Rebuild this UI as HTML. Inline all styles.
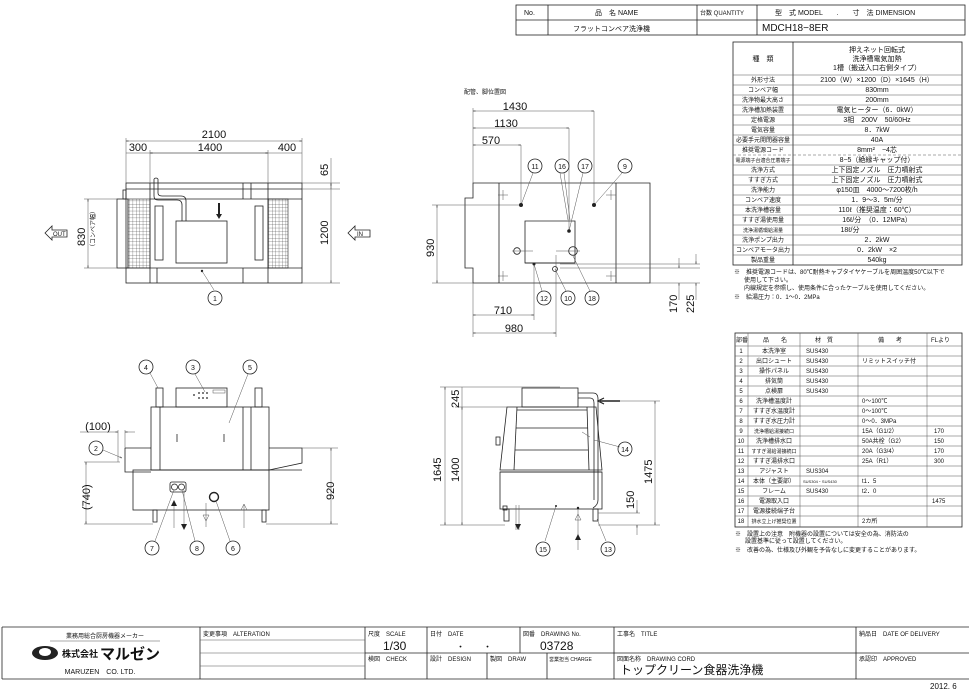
<!DOCTYPE html>
<html><head><meta charset="utf-8"><style>
html,body{margin:0;padding:0;background:#fff}
svg{display:block}
text{font-family:"Liberation Sans","Noto Sans CJK JP",sans-serif;fill:#111}
.t{font-size:7px}
.s{font-size:6px}
.d{font-size:11px}
.l{stroke:#222;stroke-width:.8;fill:none}
.th{stroke:#222;stroke-width:1.3;fill:none}
.g{stroke:#555;stroke-width:.5;fill:none}
</style></head><body>
<svg width="969" height="692" viewBox="0 0 969 692" xmlns="http://www.w3.org/2000/svg">
<rect width="969" height="692" fill="#fff"/>
<defs>
<marker id="a" viewBox="0 0 10 10" refX="10" refY="5" markerWidth="5" markerHeight="5" orient="auto-start-reverse"><path d="M0,2L10,5L0,8" fill="none" stroke="#222"/></marker>
<pattern id="m" width="3.4" height="3.4" patternUnits="userSpaceOnUse"><path d="M0,0H3.4M0,0V3.4" stroke="#333" stroke-width=".5"/></pattern>
</defs>

<!-- Header table -->
<g class="l">
<rect x="516" y="5" width="449" height="30"/>
<line x1="516" y1="20" x2="965" y2="20"/>
<line x1="548" y1="5" x2="548" y2="35"/><line x1="697" y1="5" x2="697" y2="35"/><line x1="757" y1="5" x2="757" y2="35"/>
</g>
<text class="t" x="524" y="15">No.</text>
<text class="t" x="595" y="15">品　名 NAME</text>
<text class="s" x="700" y="15">台数 QUANTITY</text>
<text class="t" x="775" y="15">型　式 MODEL　　.　　寸　法 DIMENSION</text>
<text class="t" x="573" y="31">フラットコンベア洗浄機</text>
<text class="d" x="762" y="31" style="font-size:10px">MDCH18−8ER</text>

<!-- Spec table -->
<g class="l">
<rect x="733" y="42" width="229" height="223"/>
<line x1="793" y1="42" x2="793" y2="265"/>
</g>
<g class="g">
<line x1="733" y1="75" x2="962" y2="75"/><line x1="733" y1="85" x2="962" y2="85"/><line x1="733" y1="95" x2="962" y2="95"/><line x1="733" y1="105" x2="962" y2="105"/><line x1="733" y1="115" x2="962" y2="115"/><line x1="733" y1="125" x2="962" y2="125"/><line x1="733" y1="135" x2="962" y2="135"/><line x1="733" y1="145" x2="962" y2="145"/><line x1="733" y1="155" x2="962" y2="155" stroke-dasharray="3,2"/><line x1="733" y1="165" x2="962" y2="165"/><line x1="733" y1="175" x2="962" y2="175"/><line x1="733" y1="185" x2="962" y2="185"/><line x1="733" y1="195" x2="962" y2="195"/><line x1="733" y1="205" x2="962" y2="205"/><line x1="733" y1="215" x2="962" y2="215"/><line x1="733" y1="225" x2="962" y2="225"/><line x1="733" y1="235" x2="962" y2="235"/><line x1="733" y1="245" x2="962" y2="245"/><line x1="733" y1="255" x2="962" y2="255"/>
</g>
<g class="t" text-anchor="middle">
<text x="763" y="61">種　類</text>
<text x="877" y="52">押えネット回転式</text><text x="877" y="61">洗浄槽電気加熱</text><text x="877" y="70">1槽（搬送入口右側タイプ）</text>
</g>
<g class="s" text-anchor="middle">
<text x="763" y="82">外形寸法</text><text x="763" y="92">コンベア幅</text><text x="763" y="102">洗浄物最大高さ</text><text x="763" y="112">洗浄槽加熱装置</text><text x="763" y="122">定格電源</text><text x="763" y="132">電気容量</text><text x="763" y="142">必要手元開閉器容量</text><text x="763" y="152">推奨電源コード</text><text x="763" y="162" style="font-size:5px">電源端子台適合圧着端子</text><text x="763" y="172">洗浄方式</text><text x="763" y="182">すすぎ方式</text><text x="763" y="192">洗浄能力</text><text x="763" y="202">コンベア速度</text><text x="763" y="212">本洗浄槽容量</text><text x="763" y="222">すすぎ湯使用量</text><text x="763" y="232" style="font-size:5px">洗浄湯循環給湯量</text><text x="763" y="242">洗浄ポンプ出力</text><text x="763" y="252">コンベアモータ出力</text><text x="763" y="262">製品重量</text>
</g>
<g class="t" text-anchor="middle">
<text x="877" y="82">2100（W）×1200（D）×1645（H）</text><text x="877" y="92">830mm</text><text x="877" y="102">200mm</text><text x="877" y="112">電気ヒーター（6．0kW）</text><text x="877" y="122">3相　200V　50/60Hz</text><text x="877" y="132">8．7kW</text><text x="877" y="142">40A</text><text x="877" y="152">8mm²　−4芯</text><text x="877" y="162">8−5（絶縁キャップ付）</text><text x="877" y="172">上下固定ノズル　圧力噴射式</text><text x="877" y="182">上下固定ノズル　圧力噴射式</text><text x="877" y="192">φ150皿　4000〜7200枚/h</text><text x="877" y="202">1．9〜3．5m/分</text><text x="877" y="212">110ℓ（推奨温度：60℃）</text><text x="877" y="222">16ℓ/分　（0．12MPa）</text><text x="850" y="232">18ℓ/分</text><text x="877" y="242">2．2kW</text><text x="877" y="252">0．2kW　×2</text><text x="877" y="262">540kg</text>
</g>
<g class="s">
<text x="734" y="274">※　推奨電源コードは、80℃耐熱キャブタイヤケーブルを周囲温度50℃以下で</text>
<text x="744" y="282">使用して下さい。</text>
<text x="744" y="290">内線規定を参照し、使用条件に合ったケーブルを使用してください。</text>
<text x="734" y="299">※　給湯圧力：0．1〜0．2MPa</text>
</g>

<!-- Parts table -->
<g class="l"><rect x="735" y="333" width="227" height="194"/></g>
<g class="g">
<line x1="748" y1="333" x2="748" y2="527"/><line x1="800" y1="333" x2="800" y2="527"/><line x1="858" y1="333" x2="858" y2="527"/><line x1="927" y1="333" x2="927" y2="527"/>
<line x1="735" y1="346" x2="962" y2="346"/><line x1="735" y1="356" x2="962" y2="356"/><line x1="735" y1="366" x2="962" y2="366"/><line x1="735" y1="376" x2="962" y2="376"/><line x1="735" y1="386" x2="962" y2="386"/><line x1="735" y1="396" x2="962" y2="396"/><line x1="735" y1="406" x2="962" y2="406"/><line x1="735" y1="416" x2="962" y2="416"/><line x1="735" y1="426" x2="962" y2="426"/><line x1="735" y1="436" x2="962" y2="436"/><line x1="735" y1="446" x2="962" y2="446"/><line x1="735" y1="456" x2="962" y2="456"/><line x1="735" y1="466" x2="962" y2="466"/><line x1="735" y1="476" x2="962" y2="476"/><line x1="735" y1="486" x2="962" y2="486"/><line x1="735" y1="496" x2="962" y2="496"/><line x1="735" y1="506" x2="962" y2="506"/><line x1="735" y1="516" x2="962" y2="516"/>
</g>
<g class="s">
<text x="736" y="342">部番</text><text x="763" y="342">品　　名</text><text x="815" y="342">材　質</text><text x="878" y="342">備　　考</text><text x="931" y="342">FLより</text>
</g>
<g class="s" text-anchor="middle">
<text x="741" y="353">1</text><text x="741" y="363">2</text><text x="741" y="373">3</text><text x="741" y="383">4</text><text x="741" y="393">5</text><text x="741" y="403">6</text><text x="741" y="413">7</text><text x="741" y="423">8</text><text x="741" y="433">9</text><text x="741" y="443">10</text><text x="741" y="453">11</text><text x="741" y="463">12</text><text x="741" y="473">13</text><text x="741" y="483">14</text><text x="741" y="493">15</text><text x="741" y="503">16</text><text x="741" y="513">17</text><text x="741" y="523">18</text>
<text x="774" y="353">本洗浄室</text><text x="774" y="363">出口シュート</text><text x="774" y="373">操作パネル</text><text x="774" y="383">排気筒</text><text x="774" y="393">点検扉</text><text x="774" y="403">洗浄槽温度計</text><text x="774" y="413">すすぎ水温度計</text><text x="774" y="423">すすぎ水圧力計</text><text x="774" y="433" style="font-size:5px">洗浄槽給湯接続口</text><text x="774" y="443">洗浄槽排水口</text><text x="774" y="453" style="font-size:5px">すすぎ湯給湯接続口</text><text x="774" y="463">すすぎ湯排水口</text><text x="774" y="473">アジャスト</text><text x="774" y="483">本体（主要部）</text><text x="774" y="493">フレーム</text><text x="774" y="503">電源取入口</text><text x="774" y="513">電源接続端子台</text><text x="774" y="523" style="font-size:5px">排水立上げ推奨位置</text>
</g>
<g class="s">
<text x="806" y="353">SUS430</text><text x="806" y="363">SUS430</text><text x="806" y="373">SUS430</text><text x="806" y="383">SUS430</text><text x="806" y="393">SUS430</text><text x="806" y="473">SUS304</text><text x="803" y="483" style="font-size:4px">SUS304・SUS430</text><text x="806" y="493">SUS430</text>
<text x="862" y="363">リミットスイッチ付</text><text x="862" y="403">0〜100℃</text><text x="862" y="413">0〜100℃</text><text x="862" y="423">0〜0．3MPa</text><text x="862" y="433">15A（G1/2）</text><text x="862" y="443">50A共栓（G2）</text><text x="862" y="453">20A（G3/4）</text><text x="862" y="463">25A（R1）</text><text x="862" y="483">t1．5</text><text x="862" y="493">t2．0</text><text x="862" y="523">2カ所</text>
<text x="934" y="433">170</text><text x="934" y="443">150</text><text x="934" y="453">170</text><text x="934" y="463">300</text><text x="932" y="503">1475</text>
<text x="735" y="536">※　設置上の注意　附機器の設置については安全の為、消防法の</text>
<text x="745" y="543">設置基準に従って設置してください。</text>
<text x="735" y="552">※　改善の為、仕様及び外観を予告なしに変更することがあります。</text>
</g>

<!-- Drawing 1: top view -->
<g class="l">
<rect x="126" y="183" width="176" height="100"/>
<line x1="126" y1="189" x2="302" y2="189"/>
<line x1="150" y1="183" x2="150" y2="283"/><line x1="268" y1="183" x2="268" y2="283"/>
<line x1="150" y1="199" x2="268" y2="199"/><line x1="150" y1="268" x2="268" y2="268"/>
<line x1="126" y1="268" x2="150" y2="268"/><line x1="268" y1="268" x2="302" y2="268"/>
<line x1="268" y1="199" x2="302" y2="199"/>
<line x1="243" y1="183" x2="243" y2="199"/><line x1="251" y1="183" x2="251" y2="199"/>
<line x1="243" y1="268" x2="243" y2="283"/><line x1="157" y1="268" x2="157" y2="283"/>
<rect x="117" y="199" width="11" height="69"/>
<rect x="123" y="190" width="3" height="9"/>
<rect x="155" y="206" width="8" height="54"/><rect x="255" y="206" width="8" height="54"/>
<rect x="176" y="221" width="51" height="42"/>
<path d="M154,179 V196 Q154,200 158,200 H177 Q182,200 182,205 V221 M158,179 V193 Q158,196 162,196 H181 Q186,196 186,201 V221"/>
<path d="M154,179 Q156,177 158,179"/>
</g>
<rect x="128" y="199" width="22" height="69" fill="url(#m)" stroke="#222" stroke-width=".6"/>
<rect x="268" y="199" width="20" height="69" fill="url(#m)" stroke="#222" stroke-width=".6"/>
<path d="M219,203 V216" stroke="#222" stroke-width="2"/><path d="M216,214 L219,219 L222,214" fill="#222"/>
<circle cx="202" cy="271" r="1.2" fill="#222"/>
<line x1="202" y1="271" x2="214" y2="290" class="g"/>
<circle cx="215" cy="298" r="7" class="l"/><text class="t" x="215" y="301" text-anchor="middle">1</text>
<g class="g">
<line x1="126" y1="138" x2="126" y2="183"/><line x1="302" y1="138" x2="302" y2="183"/><line x1="150" y1="150" x2="150" y2="183"/><line x1="268" y1="150" x2="268" y2="183"/>
<line x1="126" y1="141" x2="302" y2="141" marker-start="url(#a)" marker-end="url(#a)"/>
<line x1="126" y1="153" x2="302" y2="153"/>
<line x1="150" y1="153" x2="268" y2="153" marker-start="url(#a)" marker-end="url(#a)"/>
<line x1="302" y1="183" x2="340" y2="183"/><line x1="302" y1="283" x2="340" y2="283"/><line x1="302" y1="189" x2="340" y2="189"/>
<line x1="331" y1="183" x2="331" y2="283" marker-start="url(#a)" marker-end="url(#a)"/>
<line x1="331" y1="158" x2="331" y2="189"/>
<line x1="117" y1="199" x2="84" y2="199"/><line x1="117" y1="268" x2="84" y2="268"/>
<line x1="88" y1="199" x2="88" y2="268" marker-start="url(#a)" marker-end="url(#a)"/>
</g>
<text class="d" x="214" y="138" text-anchor="middle">2100</text>
<text class="d" x="138" y="151" text-anchor="middle">300</text>
<text class="d" x="210" y="151" text-anchor="middle">1400</text>
<text class="d" x="287" y="151" text-anchor="middle">400</text>
<text class="d" transform="translate(328,176) rotate(-90)">65</text>
<text class="d" transform="translate(328,245) rotate(-90)">1200</text>
<text class="d" transform="translate(85,246) rotate(-90)">830</text>
<text class="s" transform="translate(95,250) rotate(-90)">（コンベア幅）</text>
<path d="M45,233 L52,226 V230 H67 V237 H52 V240 Z" class="l"/><text class="s" x="53" y="236">OUT</text>
<path d="M348,233 L355,226 V230 H370 V237 H355 V240 Z" class="l"/><text class="s" x="357" y="236">IN</text>

<!-- Drawing 2: pipe positions -->
<text class="s" x="464" y="94">配管、脚位置図</text>
<g class="l">
<path d="M473,183 H650 V283 H473 V268 H465 V198 H473 Z"/>
<line x1="499" y1="183" x2="499" y2="283"/><line x1="616" y1="183" x2="616" y2="283"/>
<path d="M525,263 V221 H575 V263 Z"/>
<line x1="525" y1="263" x2="575" y2="263"/>
</g>
<g class="g">
<line x1="473" y1="108" x2="473" y2="183"/>
<line x1="473" y1="111" x2="594" y2="111" marker-start="url(#a)" marker-end="url(#a)"/><line x1="594" y1="111" x2="594" y2="205"/>
<line x1="473" y1="128" x2="569" y2="128" marker-start="url(#a)" marker-end="url(#a)"/><line x1="569" y1="128" x2="569" y2="231"/>
<line x1="473" y1="145" x2="521" y2="145" marker-start="url(#a)" marker-end="url(#a)"/><line x1="521" y1="145" x2="521" y2="205"/>
<line x1="432" y1="205" x2="521" y2="205"/><line x1="432" y1="283" x2="473" y2="283"/>
<line x1="437" y1="205" x2="437" y2="283" marker-start="url(#a)" marker-end="url(#a)"/>
<line x1="473" y1="283" x2="473" y2="337"/>
<line x1="534" y1="264" x2="534" y2="320"/><line x1="556" y1="255" x2="556" y2="337"/>
<line x1="473" y1="315" x2="534" y2="315" marker-start="url(#a)" marker-end="url(#a)"/>
<line x1="473" y1="333" x2="556" y2="333" marker-start="url(#a)" marker-end="url(#a)"/>
<line x1="650" y1="283" x2="700" y2="283"/><line x1="560" y1="264" x2="700" y2="264"/><line x1="560" y1="268" x2="700" y2="268"/>
<line x1="679" y1="258" x2="679" y2="268" marker-end="url(#a)"/><line x1="679" y1="300" x2="679" y2="283" marker-end="url(#a)"/>
<line x1="696" y1="254" x2="696" y2="264" marker-end="url(#a)"/><line x1="696" y1="300" x2="696" y2="283" marker-end="url(#a)"/>
<line x1="512" y1="251" x2="533" y2="251"/><line x1="556" y1="251" x2="580" y2="251"/>
<line x1="503" y1="190" x2="503" y2="200"/><line x1="498" y1="195" x2="508" y2="195"/>
<line x1="611" y1="190" x2="611" y2="200"/><line x1="606" y1="195" x2="616" y2="195"/>
<line x1="503" y1="271" x2="503" y2="281"/><line x1="498" y1="276" x2="508" y2="276"/>
<line x1="611" y1="271" x2="611" y2="281"/><line x1="606" y1="276" x2="616" y2="276"/>
<line x1="521" y1="205" x2="533" y2="173"/><line x1="594" y1="205" x2="622" y2="173"/>
<line x1="568" y1="220" x2="560" y2="173"/><line x1="570" y1="220" x2="564" y2="173"/><line x1="569" y1="231" x2="583" y2="173"/>
<line x1="573" y1="256" x2="590" y2="291"/><line x1="555" y1="269" x2="566" y2="291"/><line x1="534" y1="264" x2="542" y2="291"/>
</g>
<circle cx="521" cy="205" r="2" fill="#222"/><circle cx="594" cy="205" r="2" fill="#222"/><circle cx="569" cy="231" r="1.8" fill="#222"/><circle cx="534" cy="264" r="1.5" fill="#222"/>
<circle cx="517" cy="251" r="3.3" class="l"/><circle cx="573" cy="251" r="4.3" class="l"/><circle cx="555" cy="269" r="2.5" class="l"/>
<g class="l"><circle cx="535" cy="166" r="7"/><circle cx="562" cy="166" r="7"/><circle cx="585" cy="166" r="7"/><circle cx="625" cy="166" r="7"/><circle cx="544" cy="298" r="7"/><circle cx="568" cy="298" r="7"/><circle cx="592" cy="298" r="7"/></g>
<g class="t" text-anchor="middle"><text x="535" y="169">11</text><text x="562" y="169">16</text><text x="585" y="169">17</text><text x="625" y="169">9</text><text x="544" y="301">12</text><text x="568" y="301">10</text><text x="592" y="301">18</text></g>
<text class="d" x="515" y="110" text-anchor="middle">1430</text>
<text class="d" x="506" y="127" text-anchor="middle">1130</text>
<text class="d" x="491" y="144" text-anchor="middle">570</text>
<text class="d" transform="translate(434,257) rotate(-90)">930</text>
<text class="d" x="503" y="314" text-anchor="middle">710</text>
<text class="d" x="514" y="332" text-anchor="middle">980</text>
<text class="d" transform="translate(677,313) rotate(-90)">170</text>
<text class="d" transform="translate(694,313) rotate(-90)">225</text>

<!-- Drawing 3: front view -->
<g class="l">
<rect x="151" y="407" width="118" height="63"/>
<rect x="133" y="470" width="136" height="40"/>
<path d="M125,448 H151 M125,448 V472 H151"/>
<path d="M269,448 H302 V463 L269,470"/>
<path d="M151,470 H302"/>
<line x1="160" y1="407" x2="160" y2="470"/><line x1="243" y1="407" x2="243" y2="470"/><line x1="251" y1="407" x2="251" y2="470"/>
<rect x="176" y="388" width="51" height="19"/>
<rect x="156" y="388" width="7" height="19"/><rect x="255" y="388" width="7" height="19"/>
<rect x="153" y="510" width="4" height="12"/><rect x="262" y="510" width="4" height="12"/>
<rect x="170" y="482" width="16" height="10" rx="2"/>
<circle cx="174.5" cy="487" r="3"/><circle cx="181.5" cy="487" r="3"/>
<circle cx="214" cy="497" r="4.5" stroke-width="1.4"/>
<line x1="177" y1="434" x2="177" y2="442"/><line x1="224" y1="434" x2="224" y2="442"/>
</g>
<g class="s"><circle cx="194" cy="395" r=".9" fill="#222"/><circle cx="199" cy="393" r=".9" fill="#222"/><circle cx="203" cy="393" r=".9" fill="#222"/><circle cx="207" cy="393" r=".9" fill="#222"/><circle cx="199" cy="398" r=".9" fill="#222"/><circle cx="203" cy="398" r=".9" fill="#222"/><circle cx="207" cy="398" r=".9" fill="#222"/></g>
<rect x="213" y="390" width="12" height="3" class="g"/>
<g class="g">
<line x1="174" y1="503" x2="174" y2="528"/><line x1="184" y1="490" x2="184" y2="528"/><line x1="206" y1="503" x2="206" y2="527"/><line x1="244" y1="504" x2="244" y2="528"/>
<line x1="302" y1="448" x2="338" y2="448"/><line x1="266" y1="524" x2="338" y2="524"/>
<line x1="331" y1="448" x2="331" y2="524" marker-start="url(#a)" marker-end="url(#a)"/>
<line x1="84" y1="462" x2="120" y2="462"/><line x1="84" y1="524" x2="153" y2="524"/>
<line x1="86" y1="462" x2="86" y2="524" marker-start="url(#a)" marker-end="url(#a)"/>
<line x1="118" y1="430" x2="118" y2="462"/><line x1="125" y1="430" x2="125" y2="448"/>
<line x1="80" y1="432" x2="118" y2="432" marker-end="url(#a)"/><line x1="135" y1="432" x2="125" y2="432" marker-end="url(#a)"/>
<line x1="103" y1="450" x2="122" y2="458" marker-end="url(#a)"/>
<line x1="150" y1="373" x2="158" y2="388"/><line x1="195" y1="374" x2="205" y2="392"/><line x1="248" y1="374" x2="229" y2="423"/>
<line x1="174" y1="490" x2="155" y2="541"/><line x1="182" y1="490" x2="195" y2="541"/><line x1="216" y1="501" x2="230" y2="541"/>
</g>
<path d="M171,506 L174,500 L177,506Z" fill="#222"/>
<path d="M181,524 L184,530 L187,524Z" fill="#222"/>
<path d="M203,515 L206,521 L209,515Z" class="g"/>
<path d="M241,510 L244,504 L247,510Z" class="g"/>
<g class="l"><circle cx="146" cy="367" r="7"/><circle cx="193" cy="367" r="7"/><circle cx="250" cy="367" r="7"/><circle cx="96" cy="448" r="7"/><circle cx="152" cy="548" r="7"/><circle cx="197" cy="548" r="7"/><circle cx="233" cy="548" r="7"/></g>
<g class="t" text-anchor="middle"><text x="146" y="370">4</text><text x="193" y="370">3</text><text x="250" y="370">5</text><text x="96" y="451">2</text><text x="152" y="551">7</text><text x="197" y="551">8</text><text x="233" y="551">6</text></g>
<text class="d" x="98" y="430" text-anchor="middle">(100)</text>
<text class="d" transform="translate(90,510) rotate(-90)">(740)</text>
<text class="d" transform="translate(334,500) rotate(-90)">920</text>

<!-- Drawing 4: side view -->
<g class="l">
<rect x="522" y="388" width="56" height="19"/>
<path d="M507,407 H596 L602,470 H500 Z"/>
<line x1="517" y1="407" x2="514" y2="470"/><line x1="587" y1="407" x2="589" y2="470"/>
<line x1="517" y1="410" x2="587" y2="410"/><line x1="516" y1="428" x2="588" y2="428"/><line x1="515" y1="450" x2="588" y2="450"/>
<line x1="500" y1="472" x2="602" y2="472"/>
<rect x="500" y="472" width="102" height="37"/>
<rect x="496" y="437" width="4" height="8"/>
<rect x="504" y="509" width="5" height="12"/><rect x="593" y="509" width="5" height="12"/>
<rect x="503" y="506" width="4" height="4"/>
<path d="M578,393 H593 Q598,393 598,399 V500 Q598,505 593,508 M578,398 H590 Q594,398 594,403 V500"/>
</g>
<path d="M600,401 H620" stroke="#222" stroke-width="1.4"/><path d="M604,398 L598,401 L604,404" fill="none" stroke="#222" stroke-width="1.2"/>
<g class="g">
<line x1="440" y1="387" x2="560" y2="387"/><line x1="455" y1="407" x2="507" y2="407"/><line x1="440" y1="525" x2="505" y2="525"/>
<line x1="445" y1="387" x2="445" y2="525" marker-start="url(#a)" marker-end="url(#a)"/>
<line x1="462" y1="407" x2="462" y2="525" marker-start="url(#a)" marker-end="url(#a)"/>
<line x1="462" y1="387" x2="462" y2="407"/>
<line x1="620" y1="401" x2="660" y2="401"/><line x1="598" y1="525" x2="660" y2="525"/><line x1="598" y1="513" x2="640" y2="513"/>
<line x1="655" y1="401" x2="655" y2="525" marker-start="url(#a)" marker-end="url(#a)"/>
<line x1="637" y1="500" x2="637" y2="513" marker-end="url(#a)"/><line x1="637" y1="535" x2="637" y2="525" marker-end="url(#a)"/>
<line x1="516" y1="505" x2="516" y2="530"/><line x1="519" y1="505" x2="519" y2="530"/><line x1="578" y1="507" x2="578" y2="550"/>
<line x1="594" y1="440" x2="620" y2="447"/><line x1="556" y1="506" x2="545" y2="541"/><line x1="597" y1="519" x2="606" y2="541"/>
<line x1="590" y1="437" x2="582" y2="432"/>
</g>
<circle cx="556" cy="506" r="1" fill="#222"/><circle cx="578" cy="508" r="1.2" fill="#222"/>
<path d="M515,524 L518,530 L521,524Z" fill="#222"/>
<path d="M575,520 L578,514 L581,520Z" class="g"/>
<path d="M575,540 L578,534 L581,540Z" fill="#222"/>
<g class="l"><circle cx="625" cy="449" r="7"/><circle cx="543" cy="549" r="7"/><circle cx="608" cy="549" r="7"/></g>
<g class="t" text-anchor="middle"><text x="625" y="452">14</text><text x="543" y="552">15</text><text x="608" y="552">13</text></g>
<text class="d" transform="translate(441,482) rotate(-90)">1645</text>
<text class="d" transform="translate(459,482) rotate(-90)">1400</text>
<text class="d" transform="translate(459,408) rotate(-90)">245</text>
<text class="d" transform="translate(652,484) rotate(-90)">1475</text>
<text class="d" transform="translate(634,509) rotate(-90)">150</text>

<!-- Title block -->
<g class="l">
<line x1="2" y1="627" x2="969" y2="627"/>
<line x1="2" y1="679" x2="969" y2="679"/>
<line x1="2" y1="627" x2="2" y2="679"/>
<line x1="200" y1="627" x2="200" y2="679"/>
<line x1="365" y1="627" x2="365" y2="679"/>
<line x1="365" y1="653" x2="969" y2="653"/>
<line x1="427" y1="627" x2="427" y2="679"/>
<line x1="520" y1="627" x2="520" y2="653"/>
<line x1="487" y1="653" x2="487" y2="679"/>
<line x1="547" y1="653" x2="547" y2="679"/>
<line x1="614" y1="627" x2="614" y2="679"/>
<line x1="856" y1="627" x2="856" y2="679"/>
</g>
<g class="g"><line x1="200" y1="640" x2="365" y2="640"/><line x1="200" y1="653" x2="365" y2="653"/><line x1="200" y1="666" x2="365" y2="666"/><line x1="50" y1="641" x2="160" y2="641"/></g>
<text class="s" x="105" y="638" text-anchor="middle">業務用総合厨房機器メーカー</text>
<ellipse cx="45" cy="653" rx="13" ry="7" fill="#222"/><ellipse cx="45" cy="652" rx="6" ry="4" fill="#fff"/>
<text x="62" y="657" style="font-size:9px;font-weight:bold">株式会社</text>
<text x="100" y="659" style="font-size:15px;font-weight:bold">マルゼン</text>
<text x="100" y="674" text-anchor="middle" style="font-size:7px">MARUZEN　CO. LTD.</text>
<g class="s">
<text x="203" y="636">変更事項　ALTERATION</text>
<text x="368" y="636">尺度　SCALE</text><text x="430" y="636">日付　DATE</text><text x="523" y="636">図番　DRAWING No.</text><text x="617" y="636">工事名　TITLE</text><text x="859" y="636">納品日　DATE OF DELIVERY</text>
<text x="368" y="661">検図　CHECK</text><text x="430" y="661">設計　DESIGN</text><text x="490" y="661">製図　DRAW</text><text x="549" y="661" style="font-size:5px">営業担当 CHARGE</text><text x="617" y="661">図面名称　DRAWING CORD</text><text x="859" y="661">承認印　APPROVED</text>
</g>
<text x="383" y="650" style="font-size:12px">1/30</text>
<text x="456" y="650" style="font-size:9px">・　　・</text>
<text x="540" y="650" style="font-size:12px">03728</text>
<text x="620" y="674" style="font-size:12px">トップクリーン食器洗浄機</text>
<text x="930" y="689" style="font-size:8px">2012. 6</text>
</svg>
</body></html>
